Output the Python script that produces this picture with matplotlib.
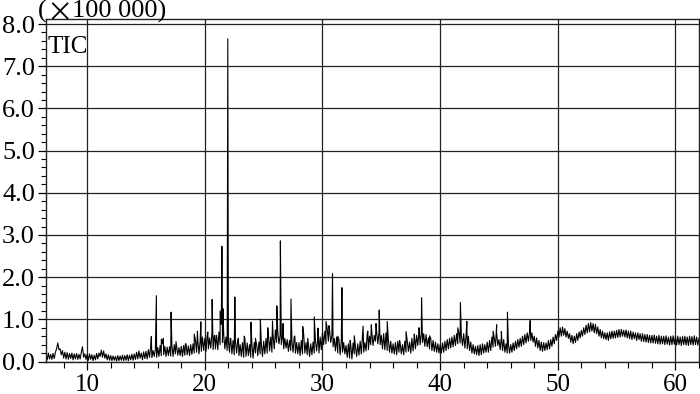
import matplotlib
matplotlib.use("Agg")
import matplotlib.pyplot as plt
import numpy as np
from matplotlib.ticker import MultipleLocator, FormatStrFormatter

plt.rcParams['font.family'] = ['Liberation Serif', 'DejaVu Serif']

# retention time grid (min), one reading every 0.1 min from 6.5 to 62.0
t_start, t_step = 6.5, 0.1

# noisy background trace (x100 000 counts)
base_vals = [
    0.18, 0.04, 0.20, 0.06, 0.17,                                  # 6.5-6.9
    0.05, 0.19, 0.07, 0.22, 0.30, 0.44, 0.28, 0.30, 0.16, 0.26,    # 7
    0.08, 0.22, 0.06, 0.21, 0.05, 0.19, 0.07, 0.20, 0.04, 0.18,    # 8
    0.06, 0.19, 0.05, 0.17, 0.06, 0.22, 0.35, 0.10, 0.18, 0.05,    # 9
    0.17, 0.03, 0.18, 0.05, 0.16, 0.02, 0.15, 0.04, 0.19, 0.06,    # 10
    0.20, 0.12, 0.27, 0.10, 0.25, 0.08, 0.18, 0.04, 0.16, 0.03,    # 11
    0.14, 0.02, 0.13, 0.03, 0.12, 0.01, 0.14, 0.02, 0.13, 0.03,    # 12
    0.15, 0.02, 0.14, 0.03, 0.16, 0.02, 0.15, 0.04, 0.17, 0.03,    # 13
    0.18, 0.05, 0.22, 0.06, 0.25, 0.08, 0.20, 0.04, 0.23, 0.07,    # 14
    0.24, 0.06, 0.28, 0.10, 0.36, 0.09, 0.26, 0.12, 0.30, 0.10,    # 15
    0.33, 0.12, 0.38, 0.14, 0.42, 0.16, 0.36, 0.12, 0.34, 0.14,    # 16
    0.35, 0.13, 0.38, 0.12, 0.40, 0.18, 0.36, 0.15, 0.33, 0.14,    # 17
    0.36, 0.12, 0.38, 0.15, 0.42, 0.16, 0.37, 0.14, 0.40, 0.17,    # 18
    0.42, 0.20, 0.50, 0.22, 0.52, 0.18, 0.48, 0.24, 0.58, 0.26,    # 19
    0.55, 0.24, 0.62, 0.30, 0.56, 0.32, 0.66, 0.28, 0.60, 0.30,    # 20
    0.62, 0.28, 0.70, 0.40, 0.88, 0.45, 0.66, 0.30, 0.58, 0.26,    # 21
    0.48, 0.22, 0.55, 0.18, 0.50, 0.16, 0.48, 0.20, 0.52, 0.14,    # 22
    0.40, 0.12, 0.45, 0.10, 0.55, 0.12, 0.44, 0.14, 0.40, 0.10,    # 23
    0.42, 0.08, 0.45, 0.20, 0.40, 0.14, 0.46, 0.18, 0.42, 0.12,    # 24
    0.48, 0.18, 0.55, 0.20, 0.66, 0.25, 0.58, 0.22, 0.62, 0.30,    # 25
    0.75, 0.45, 0.70, 0.42, 0.62, 0.40, 0.60, 0.30, 0.55, 0.32,    # 26
    0.52, 0.24, 0.50, 0.26, 0.48, 0.22, 0.60, 0.20, 0.45, 0.18,    # 27
    0.45, 0.14, 0.50, 0.18, 0.65, 0.20, 0.45, 0.16, 0.40, 0.12,    # 28
    0.42, 0.16, 0.46, 0.20, 0.50, 0.25, 0.55, 0.20, 0.58, 0.28,    # 29
    0.68, 0.40, 0.72, 0.42, 0.78, 0.48, 0.75, 0.45, 0.62, 0.35,    # 30
    0.55, 0.25, 0.58, 0.20, 0.52, 0.16, 0.50, 0.22, 0.45, 0.18,    # 31
    0.38, 0.10, 0.42, 0.08, 0.40, 0.06, 0.44, 0.18, 0.36, 0.12,    # 32
    0.42, 0.15, 0.48, 0.18, 0.60, 0.22, 0.45, 0.25, 0.65, 0.28,    # 33
    0.60, 0.40, 0.66, 0.38, 0.62, 0.48, 0.72, 0.42, 0.68, 0.40,    # 34
    0.62, 0.30, 0.66, 0.28, 0.68, 0.26, 0.52, 0.22, 0.48, 0.20,    # 35
    0.42, 0.18, 0.45, 0.16, 0.48, 0.22, 0.44, 0.18, 0.40, 0.16,    # 36
    0.48, 0.22, 0.50, 0.24, 0.46, 0.20, 0.55, 0.25, 0.60, 0.30,    # 37
    0.62, 0.38, 0.70, 0.40, 0.68, 0.45, 0.66, 0.36, 0.64, 0.35,    # 38
    0.56, 0.30, 0.55, 0.26, 0.50, 0.24, 0.46, 0.22, 0.42, 0.20,    # 39
    0.40, 0.20, 0.44, 0.22, 0.48, 0.26, 0.52, 0.30, 0.55, 0.32,    # 40
    0.58, 0.35, 0.62, 0.38, 0.66, 0.42, 0.68, 0.44, 0.62, 0.38,    # 41
    0.66, 0.32, 0.62, 0.30, 0.60, 0.26, 0.46, 0.20, 0.40, 0.18,    # 42
    0.36, 0.16, 0.38, 0.14, 0.40, 0.16, 0.42, 0.20, 0.40, 0.22,    # 43
    0.46, 0.22, 0.50, 0.26, 0.58, 0.34, 0.55, 0.36, 0.68, 0.38,    # 44
    0.52, 0.28, 0.58, 0.26, 0.52, 0.22, 0.42, 0.20, 0.40, 0.20,    # 45
    0.40, 0.22, 0.44, 0.26, 0.48, 0.30, 0.52, 0.34, 0.55, 0.36,    # 46
    0.60, 0.40, 0.64, 0.44, 0.68, 0.48, 0.70, 0.50, 0.68, 0.46,    # 47
    0.60, 0.36, 0.56, 0.32, 0.50, 0.26, 0.46, 0.24, 0.45, 0.26,    # 48
    0.44, 0.28, 0.50, 0.30, 0.52, 0.36, 0.58, 0.42, 0.64, 0.50,    # 49
    0.72, 0.58, 0.80, 0.60, 0.82, 0.62, 0.78, 0.58, 0.72, 0.55,    # 50
    0.66, 0.46, 0.62, 0.42, 0.60, 0.45, 0.66, 0.50, 0.70, 0.56,    # 51
    0.74, 0.60, 0.80, 0.64, 0.86, 0.68, 0.90, 0.70, 0.92, 0.72,    # 52
    0.90, 0.68, 0.88, 0.66, 0.82, 0.60, 0.76, 0.56, 0.72, 0.54,    # 53
    0.68, 0.52, 0.68, 0.50, 0.70, 0.54, 0.72, 0.55, 0.72, 0.56,    # 54
    0.74, 0.57, 0.76, 0.58, 0.76, 0.60, 0.74, 0.58, 0.75, 0.56,    # 55
    0.72, 0.54, 0.72, 0.52, 0.70, 0.54, 0.68, 0.50, 0.68, 0.52,    # 56
    0.66, 0.48, 0.66, 0.47, 0.64, 0.46, 0.64, 0.45, 0.62, 0.44,    # 57
    0.62, 0.44, 0.63, 0.43, 0.60, 0.42, 0.62, 0.41, 0.60, 0.42,    # 58
    0.60, 0.40, 0.61, 0.41, 0.58, 0.39, 0.60, 0.40, 0.61, 0.41,    # 59
    0.59, 0.39, 0.60, 0.40, 0.58, 0.38, 0.59, 0.40, 0.60, 0.39,    # 60
    0.58, 0.38, 0.60, 0.40, 0.59, 0.39, 0.61, 0.40, 0.58, 0.39,    # 61
    0.55,                                                          # 62.0
]

# sharp peaks (retention time, height)
peak_t = [15.45, 15.88, 16.30, 16.47, 17.13, 17.55, 18.35, 19.10, 19.37, 19.66,
          20.25, 20.62, 20.85, 21.30, 21.45, 21.55, 21.95, 22.15, 22.55, 22.85,
          23.35, 23.92, 24.30, 24.72, 25.35, 25.75, 26.12, 26.42, 26.65, 27.32,
          27.65, 28.32, 28.75, 29.30, 29.62, 30.30, 30.55, 30.85, 31.30, 31.65,
          32.35, 32.70, 33.45, 33.85, 34.15, 34.55, 34.82, 35.50, 36.55, 37.10,
          37.80, 38.20, 38.42, 39.10, 41.50, 41.72, 42.27, 44.50, 44.80, 45.20,
          45.72, 47.65]
peak_h = [0.59, 1.56, 0.53, 0.55, 1.17, 0.47, 0.42, 0.65, 0.72, 0.94,
          0.70, 1.47, 0.62, 1.20, 2.73, 1.25, 7.65, 0.55, 1.53, 0.55,
          0.60, 0.93, 0.55, 1.00, 0.80, 0.96, 1.32, 2.86, 0.90, 1.48,
          0.60, 0.83, 0.55, 1.06, 0.79, 0.95, 0.85, 2.08, 0.60, 1.75,
          0.50, 0.61, 0.84, 0.72, 0.87, 0.90, 1.22, 0.95, 0.50, 0.71,
          0.65, 0.80, 1.51, 0.61, 0.80, 1.40, 0.95, 0.72, 0.87, 0.71,
          1.17, 0.97]

base_t = t_start + t_step * np.arange(len(base_vals))
t_all = np.concatenate([base_t, np.array(peak_t)])
v_all = np.concatenate([np.array(base_vals), np.array(peak_h)])
order = np.argsort(t_all, kind="stable")
t_all, v_all = t_all[order], v_all[order]

fig = plt.figure(figsize=(7, 3.94), dpi=100)
ax = fig.add_axes([46 / 700, 1 - 361.5 / 394, 653 / 700, 342.5 / 394])

ax.plot(t_all, v_all, color="black", lw=0.8)

ax.set_xlim(6.5, 62.0)
ax.set_ylim(0, 8.12)
ax.xaxis.set_major_locator(MultipleLocator(10))
ax.xaxis.set_minor_locator(MultipleLocator(2))
ax.yaxis.set_major_locator(MultipleLocator(1))
ax.yaxis.set_minor_locator(MultipleLocator(0.2))
ax.yaxis.set_major_formatter(FormatStrFormatter("%.1f"))

ax.grid(True, which="major", color="#222222", lw=0.9)
ax.set_axisbelow(True)
for s in ax.spines.values():
    s.set_color("#222222")
    s.set_linewidth(1.0)

ax.tick_params(axis="y", which="major", length=6, width=0.9, pad=2, labelsize=19)
ax.tick_params(axis="y", which="minor", length=3.5, width=0.8)
ax.tick_params(axis="x", which="major", length=6, width=0.9, pad=3, labelsize=18)
ax.tick_params(axis="x", which="minor", length=4, width=0.8)

# scale note, the multiplication sign is drawn wide as in the original
fig.text(38 / 700, 1.0, "(", fontsize=19, ha="left", va="top")
fig.text(46 / 700, 1.0, "\u00d7", fontsize=19, ha="left", va="top",
         family=["Noto Sans CJK JP", "DejaVu Sans"])
fig.text(72 / 700, 1.0, "100 000)", fontsize=19, ha="left", va="top")
ax.text(2 / 653, 0.95, "TIC", transform=ax.transAxes, fontsize=18,
        ha="left", va="top")

fig.savefig("out.png", dpi=100)
